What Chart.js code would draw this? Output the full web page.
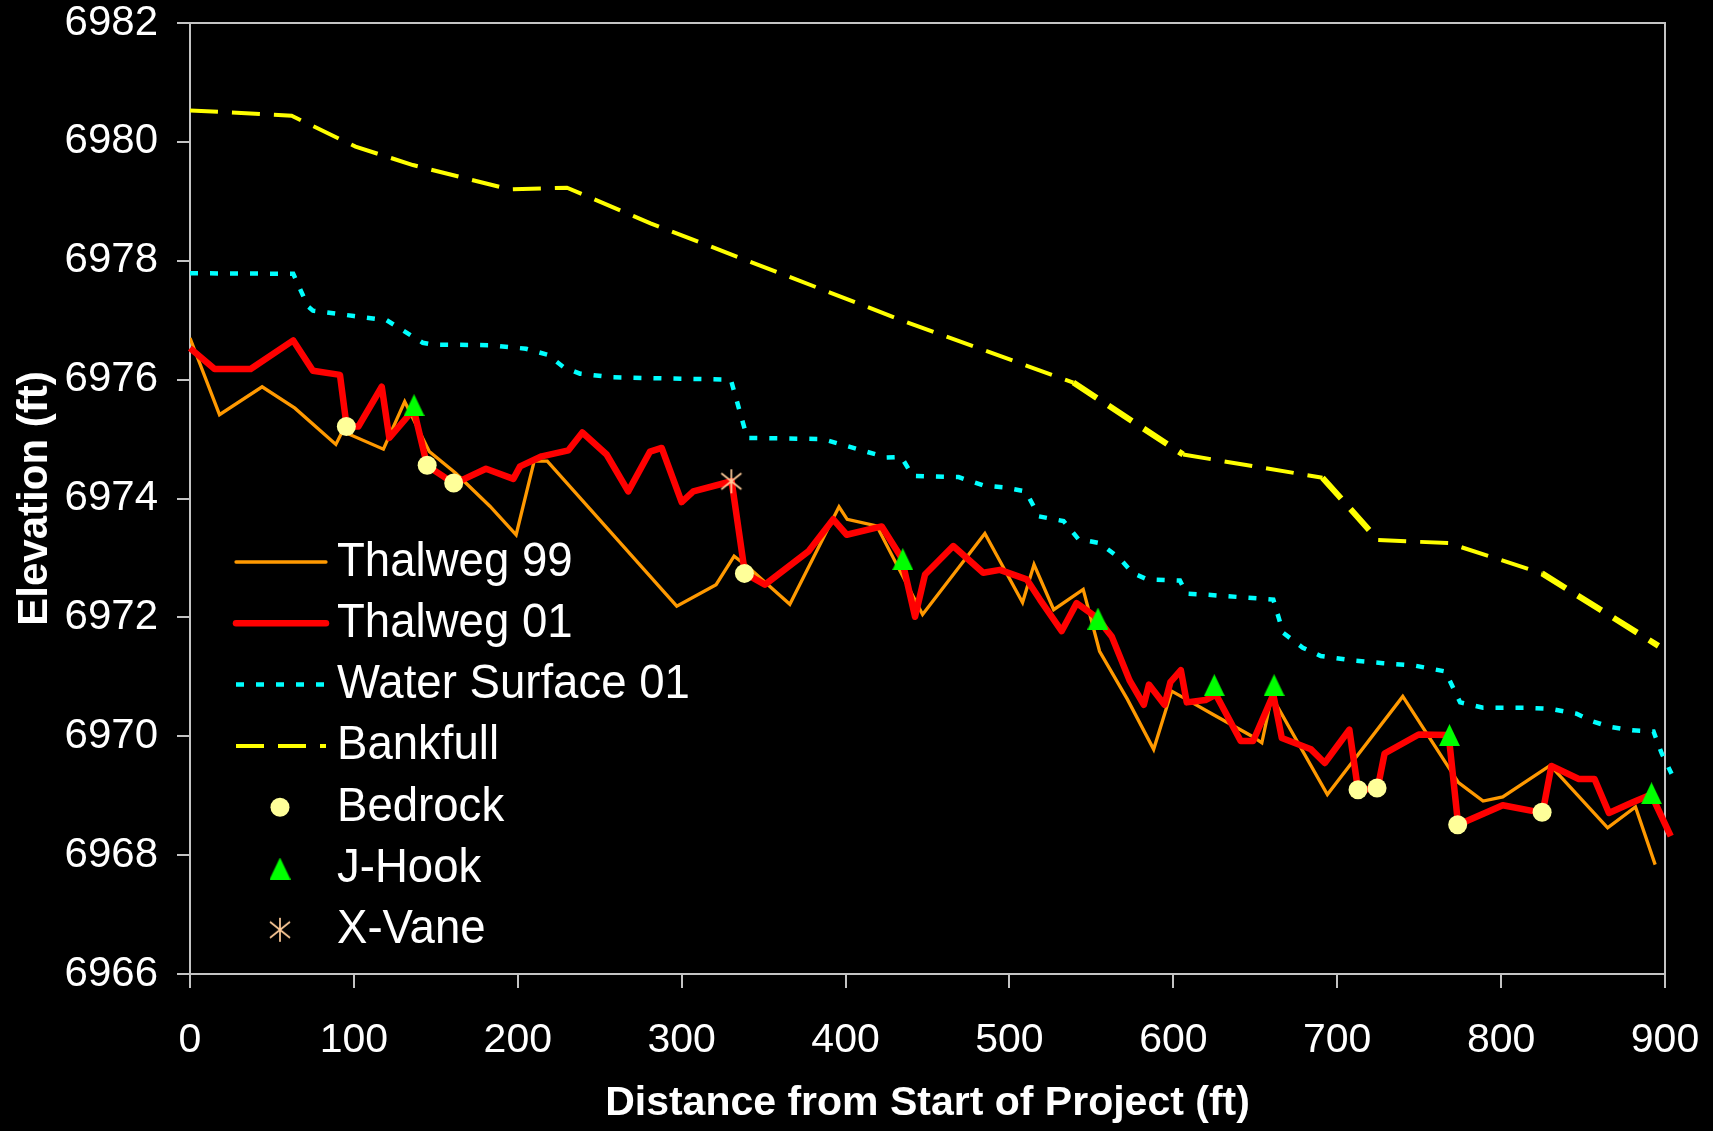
<!DOCTYPE html>
<html>
<head>
<meta charset="utf-8">
<title>Thalweg profile</title>
<script src="https://cdn.jsdelivr.net/npm/chart.js@4.4.1/dist/chart.umd.min.js"></script>
<style>
  html, body { margin: 0; padding: 0; background: #000; }
  #wrap { width: 1713px; height: 1131px; }
  canvas { display: block; background: #000; }
</style>
</head>
<body>
<div id="wrap"><canvas id="profile" width="1713" height="1131"></canvas></div>
<script>
// ---- data (distance ft / elevation ft) ----
const thalweg99X = [0, 18, 44, 64, 89, 93, 118, 131, 146, 162, 183, 199, 210, 218, 297, 321, 332, 340, 366, 396, 401, 419, 447, 485, 508, 515, 527, 545, 555, 572, 588, 599, 608, 624, 648, 654, 660, 694, 740, 774, 789, 801, 830, 865, 882, 894];
const thalweg99Y = [6976.70, 6975.41, 6975.88, 6975.52, 6974.91, 6975.13, 6974.83, 6975.63, 6974.79, 6974.43, 6973.87, 6973.39, 6974.63, 6974.63, 6972.19, 6972.55, 6973.03, 6972.86, 6972.22, 6973.86, 6973.65, 6973.54, 6972.05, 6973.41, 6972.25, 6972.89, 6972.13, 6972.47, 6971.43, 6970.62, 6969.78, 6970.76, 6970.62, 6970.37, 6970.00, 6969.89, 6970.67, 6969.02, 6970.67, 6969.22, 6968.91, 6968.98, 6969.51, 6968.46, 6968.81, 6967.84];

const thalweg01X = [0, 15, 37, 63, 75, 91.5, 95.6, 102.7, 117, 121.6, 136.5, 144.7, 161.3, 180.6, 197.3, 201.4, 214.6, 230.9, 239.4, 254.2, 267.4, 280.7, 287.8, 300, 307.1, 330.5, 338.6, 350.8, 377.3, 392.5, 400.7, 422.1, 434.2, 442.4, 448.5, 465.7, 484, 494.2, 510.5, 518.6, 531.9, 541, 553.2, 562.4, 573.3, 582, 585.1, 594.6, 598.2, 604.6, 608.2, 619.6, 626, 641.1, 648.7, 661, 666.2, 684, 692.4, 707.4, 712.7, 724.6, 728.9, 749.7, 768, 773.8, 801, 825.3, 830.7, 847.4, 857, 865.8, 879.7, 891.6, 903.5];
const thalweg01Y = [6976.53, 6976.18, 6976.18, 6976.66, 6976.15, 6976.08, 6975.21, 6975.21, 6975.88, 6975.02, 6975.50, 6974.55, 6974.25, 6974.50, 6974.33, 6974.54, 6974.71, 6974.81, 6975.11, 6974.74, 6974.12, 6974.79, 6974.85, 6973.94, 6974.12, 6974.29, 6972.74, 6972.55, 6973.11, 6973.65, 6973.39, 6973.53, 6973.00, 6972.01, 6972.72, 6973.20, 6972.75, 6972.80, 6972.64, 6972.30, 6971.77, 6972.24, 6972.00, 6971.68, 6970.94, 6970.53, 6970.87, 6970.53, 6970.91, 6971.11, 6970.57, 6970.61, 6970.70, 6969.92, 6969.92, 6970.70, 6969.97, 6969.78, 6969.55, 6970.11, 6969.10, 6969.12, 6969.71, 6970.03, 6970.02, 6968.51, 6968.84, 6968.71, 6969.50, 6969.28, 6969.28, 6968.71, 6968.88, 6969.02, 6968.32];

const waterX = [0, 63, 72, 75, 100, 120, 142, 148, 183, 205, 218, 228, 238, 258, 291, 330, 340, 386, 425, 434, 441, 469, 484, 496, 510, 518, 533, 542, 555, 567, 575, 584, 604, 608, 621, 661, 667, 679, 690, 711, 728, 747, 766, 775, 789, 815, 830, 846, 856, 866, 880, 893, 898, 904];
const waterY = [6977.79, 6977.78, 6977.23, 6977.16, 6977.07, 6977.00, 6976.62, 6976.59, 6976.58, 6976.52, 6976.42, 6976.21, 6976.10, 6976.04, 6976.02, 6976.00, 6975.02, 6975.00, 6974.69, 6974.70, 6974.38, 6974.36, 6974.22, 6974.19, 6974.12, 6973.70, 6973.62, 6973.32, 6973.25, 6973.00, 6972.75, 6972.64, 6972.62, 6972.40, 6972.38, 6972.30, 6971.74, 6971.49, 6971.35, 6971.27, 6971.23, 6971.19, 6971.09, 6970.57, 6970.48, 6970.48, 6970.46, 6970.38, 6970.25, 6970.16, 6970.10, 6970.08, 6969.71, 6969.37];

const bankfullX = [0, 62, 101, 136, 195, 230, 281, 407, 434, 539, 606, 691, 725, 768, 825, 896];
const bankfullY = [6980.53, 6980.44, 6979.92, 6979.61, 6979.20, 6979.23, 6978.63, 6977.29, 6977.00, 6975.95, 6974.74, 6974.35, 6973.30, 6973.25, 6972.74, 6971.52];

const bedrockX = [95.4, 144.7, 160.9, 338.3, 712.7, 724.3, 773.5, 825.0];
const bedrockY = [6975.21, 6974.56, 6974.26, 6972.74, 6969.10, 6969.13, 6968.51, 6968.72];

const jhookX = [136.7, 434.9, 554, 625, 661.5, 768.5, 891.8];
const jhookY = [6975.57, 6972.98, 6971.98, 6970.86, 6970.86, 6970.02, 6969.04];

const xvaneX = [330.3];
const xvaneY = [6974.29];

const xTicks = { min: 0, max: 900, step: 100 };
const yTicks = { min: 6966, max: 6982, step: 2 };

const pts = (xs, ys) => xs.map((x, i) => ({ x: x, y: ys[i] }));

// Excel-style markers as small canvases (Chart.js centres them on the point)
function makeAsterisk(color) {
  const c = document.createElement('canvas');
  c.width = 24;
  c.height = 26;
  const g = c.getContext('2d');
  g.strokeStyle = color;
  g.lineWidth = 1.7;
  g.beginPath();
  g.moveTo(12, 1); g.lineTo(12, 25);
  g.moveTo(2, 5); g.lineTo(22, 21);
  g.moveTo(2, 21); g.lineTo(22, 5);
  g.stroke();
  return c;
}

function makeTriangle(color) {
  const c = document.createElement('canvas');
  c.width = 21;
  c.height = 22;
  const g = c.getContext('2d');
  g.fillStyle = color;
  g.beginPath();
  g.moveTo(10.5, 0);
  g.lineTo(21, 22);
  g.lineTo(0, 22);
  g.closePath();
  g.fill();
  return c;
}

const asterisk = makeAsterisk('#FFCC99');
const triangle = makeTriangle('#00FF00');

const axisColor = '#C4C4C4';

// plot box: top and right edges
const frameBox = {
  id: 'frameBox',
  beforeDatasetsDraw(chart) {
    const { ctx, chartArea: a } = chart;
    ctx.save();
    ctx.strokeStyle = axisColor;
    ctx.lineWidth = 2;
    ctx.beginPath();
    ctx.moveTo(a.left, a.top);
    ctx.lineTo(a.right, a.top);
    ctx.lineTo(a.right, a.bottom);
    ctx.stroke();
    ctx.restore();
  }
};

// legend sitting inside the plot, lower left
const insideLegend = {
  id: 'insideLegend',
  afterDraw(chart) {
    const { ctx, chartArea: a } = chart;
    const x0 = a.left + 46, x1 = a.left + 136, xm = a.left + 90;
    const textX = a.left + 147;
    const rowH = 61.3;
    let y = a.top + 539;
    ctx.save();
    chart.data.datasets.forEach((ds) => {
      if (ds.showLine) {
        ctx.strokeStyle = ds.borderColor;
        ctx.lineWidth = ds.borderWidth;
        ctx.setLineDash(ds.borderDash || []);
        ctx.lineCap = ds.borderDash ? 'butt' : 'round';
        ctx.beginPath();
        ctx.moveTo(x0, y);
        ctx.lineTo(x1, y);
        ctx.stroke();
        ctx.setLineDash([]);
      } else if (ds.pointStyle === 'circle') {
        ctx.fillStyle = ds.pointBackgroundColor;
        ctx.beginPath();
        ctx.arc(xm, y, ds.pointRadius, 0, Math.PI * 2);
        ctx.fill();
      } else {
        const img = ds.pointStyle;
        ctx.drawImage(img, xm - img.width / 2, y - img.height / 2);
      }
      ctx.save();
      ctx.translate(textX, y);
      ctx.scale(0.93, 1);
      ctx.fillStyle = '#FFFFFF';
      ctx.font = '49px "Liberation Sans", Arial, sans-serif';
      ctx.textBaseline = 'middle';
      ctx.textAlign = 'left';
      ctx.fillText(ds.label, 0, 0);
      ctx.restore();
      y += rowH;
    });
    ctx.restore();
  }
};

// the steep stretches of the bankfull line come out heavier in the original
const bankfullWidth = (c) => {
  const dx = c.p1.parsed.x - c.p0.parsed.x;
  const dy = Math.abs(c.p1.parsed.y - c.p0.parsed.y);
  return dx > 0 && dy / dx > 0.012 && c.p0.parsed.x > 500 ? 6 : 4;
};

Chart.defaults.font.family = '"Liberation Sans", Arial, sans-serif';
Chart.defaults.color = '#FFFFFF';

new Chart(document.getElementById('profile'), {
  type: 'scatter',
  data: {
    datasets: [
      {
        label: 'Thalweg 99',
        data: pts(thalweg99X, thalweg99Y),
        showLine: true,
        borderColor: '#FF9900',
        borderWidth: 3.3,
        pointRadius: 0,
        order: 6
      },
      {
        label: 'Thalweg 01',
        data: pts(thalweg01X, thalweg01Y),
        showLine: true,
        borderColor: '#FF0000',
        borderWidth: 6.5,
        borderJoinStyle: 'round',
        pointRadius: 0,
        clip: false,
        order: 5
      },
      {
        label: 'Water Surface 01',
        data: pts(waterX, waterY),
        showLine: true,
        borderColor: '#00FFFF',
        borderWidth: 4.5,
        borderDash: [8, 12],
        pointRadius: 0,
        clip: false,
        order: 4
      },
      {
        label: 'Bankfull',
        data: pts(bankfullX, bankfullY),
        showLine: true,
        borderColor: '#FFFF00',
        borderWidth: 4,
        borderDash: [28, 14],
        pointRadius: 0,
        order: 3,
        segment: { borderWidth: bankfullWidth }
      },
      {
        label: 'Bedrock',
        data: pts(bedrockX, bedrockY),
        showLine: false,
        pointStyle: 'circle',
        pointRadius: 9.5,
        pointBackgroundColor: '#FFFF99',
        pointBorderWidth: 0,
        order: 1
      },
      {
        label: 'J-Hook',
        data: pts(jhookX, jhookY),
        showLine: false,
        pointStyle: triangle,
        pointRadius: 11,
        order: 1
      },
      {
        label: 'X-Vane',
        data: pts(xvaneX, xvaneY),
        showLine: false,
        pointStyle: asterisk,
        pointRadius: 12,
        order: 1
      }
    ]
  },
  options: {
    responsive: false,
    devicePixelRatio: 1,
    animation: false,
    events: [],
    layout: { padding: { top: 23, right: 48, left: 0, bottom: 0 } },
    plugins: {
      legend: { display: false },
      tooltip: { enabled: false }
    },
    scales: {
      x: {
        type: 'linear',
        min: xTicks.min,
        max: xTicks.max,
        // fixed band under the plot; label overhang must not shrink the plot
        afterFit: (s) => { s.height = 157; s.paddingLeft = 0; s.paddingRight = 0; },
        grid: { drawOnChartArea: false, color: axisColor, lineWidth: 2, tickLength: 14 },
        border: { color: axisColor, width: 2 },
        ticks: {
          stepSize: xTicks.step,
          color: '#FFFFFF',
          padding: 28,
          maxRotation: 0,
          font: { size: 41 },
          callback: (v) => String(v)
        },
        title: {
          display: true,
          text: 'Distance from Start of Project (ft)',
          color: '#FFFFFF',
          font: { size: 41, weight: 'bold' },
          padding: { top: 0, bottom: 3 }
        }
      },
      y: {
        type: 'linear',
        min: yTicks.min,
        max: yTicks.max,
        afterFit: (s) => { s.width = 190; s.paddingTop = 0; s.paddingBottom = 0; },
        grid: { drawOnChartArea: false, color: axisColor, lineWidth: 2, tickLength: 13 },
        border: { color: axisColor, width: 2 },
        ticks: {
          stepSize: yTicks.step,
          color: '#FFFFFF',
          padding: 19,
          font: { size: 42 },
          callback: (v) => String(v)
        },
        title: {
          display: true,
          text: 'Elevation (ft)',
          color: '#FFFFFF',
          font: { size: 42, weight: 'bold' },
          padding: { top: 10, bottom: 0 }
        }
      }
    }
  },
  plugins: [frameBox, insideLegend]
});
</script>
</body>
</html>
